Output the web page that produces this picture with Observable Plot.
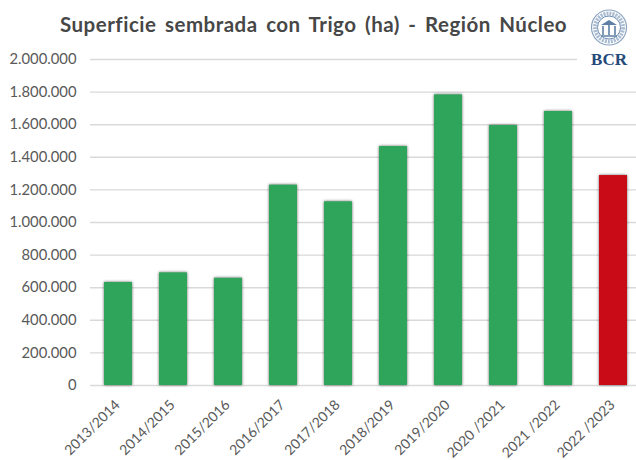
<!DOCTYPE html>
<html>
<head>
<meta charset="utf-8">
<script src="https://cdn.jsdelivr.net/npm/d3@7"></script>
<script src="https://cdn.jsdelivr.net/npm/@observablehq/plot@0.6"></script>
<style>
html,body{margin:0;padding:0;background:#fff;overflow:hidden}
#wrap{position:relative;width:636px;height:460px;font-family:Lato,sans-serif}
#title{position:absolute;left:60px;top:12px;font:bold 20.5px Lato,sans-serif;color:#474747;white-space:nowrap;word-spacing:3px;letter-spacing:.5px}
#logo{position:absolute;left:577px;top:0}
.bars rect{filter:drop-shadow(0.5px 0.5px 1.5px rgba(0,0,0,.6))}
</style>
</head>
<body>
<div id="wrap">
<div id="chart"></div>
<div id="title">Superficie sembrada con Trigo (ha) - Región Núcleo</div>
<svg id="logo" width="59" height="70" viewBox="577 0 59 70">
  <rect x="577" y="0" width="59" height="70" fill="#fff"/>
  <circle cx="609" cy="27.5" r="17.5" fill="#fff" stroke="#8ba3c0" stroke-width="1.2"/>
  <circle cx="609" cy="27.5" r="14" fill="none" stroke="#a9bcd2" stroke-width="4" stroke-dasharray="2 1"/>
  <circle cx="609" cy="27.5" r="11.5" fill="#fff" stroke="#6f8db1" stroke-width="1"/>
  <path d="M601 25 L609 20 L617 25 Z" fill="#5f7fa6"/>
  <path d="M603 26 V35 M609 24 V35 M615 26 V35 M601 36 H617" stroke="#5f7fa6" stroke-width="1.6" fill="none"/>
  <text x="609" y="65" text-anchor="middle" font-family="Liberation Serif" font-weight="bold" font-size="17" fill="#24497a">BCR</text>
</svg>
</div>
<script>
const seasons = ["2013/2014","2014/2015","2015/2016","2016/2017","2017/2018","2018/2019","2019/2020","2020 /2021","2021 /2022","2022 /2023"];
const hectares = [632000,691000,658000,1229000,1127000,1466000,1783000,1595000,1681000,1288000];
const barColors = ["#2fa55c","#2fa55c","#2fa55c","#2fa55c","#2fa55c","#2fa55c","#2fa55c","#2fa55c","#2fa55c","#c90b18"];
const yTicks = [0,200000,400000,600000,800000,1000000,1200000,1400000,1600000,1800000,2000000];

const table = seasons.map((s,i)=>({season:s,area:hectares[i],color:barColors[i]}));
const esFormat = d3.formatLocale({decimal:",",thousands:".",grouping:[3],currency:["$",""]}).format(",d");

const plot = Plot.plot({
  width:636, height:460,
  marginLeft:90, marginRight:0, marginTop:59, marginBottom:75,
  style:{background:"#fff",fontFamily:"Lato, sans-serif",overflow:"hidden"},
  x:{type:"band",domain:seasons,range:[89.2,641.2],paddingInner:0.5,paddingOuter:0.25,label:null},
  y:{domain:[0,2000000],label:null},
  marks:[
    Plot.ruleY(yTicks,{stroke:"#d9d9d9",strokeWidth:1.4}),
    Plot.barY(table,{x:"season",y:"area",fill:d=>d.color,className:"bars"}),
    Plot.axisY({ticks:yTicks,tickFormat:esFormat,tickSize:0,tickPadding:0,dx:-14,fontSize:14.8,label:null,fill:"#595959"}),
    Plot.axisX({tickSize:0,tickPadding:0,tickRotate:-45,fontSize:14,fill:"#595959",label:null,dx:-1,dy:17})
  ]
});
document.getElementById("chart").appendChild(plot);
</script>
</body>
</html>
